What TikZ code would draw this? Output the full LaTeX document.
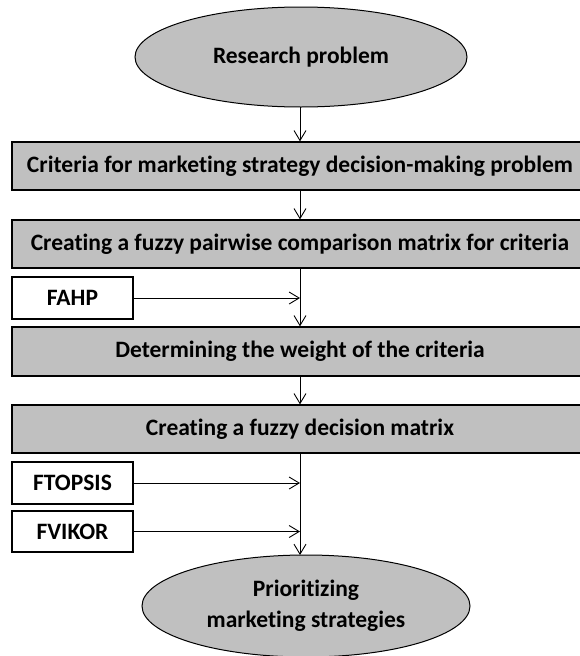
\documentclass[tikz,border=0pt]{standalone}
\usepackage{fontspec}
\setmainfont[Ligatures={NoCommon}]{Carlito}
\usetikzlibrary{arrows.meta,shapes.geometric}
\definecolor{boxgray}{RGB}{192,192,192}
\newlength\critwidth
\AtBeginDocument{%
  \settowidth\critwidth{\bfseries\fontsize{10}{12}\selectfont Criteria for marketing strategy decision-making problem}%
  \pgfmathsetmacro\fsz{10*546/\critwidth}%
  \pgfmathsetmacro\fbl{1.3*\fsz}%
  \xdef\fsz{\fsz}\xdef\fbl{\fbl}}
\tikzset{
  txt/.style={font=\bfseries\fontsize{\fsz}{\fbl}\selectfont},
  stage/.style={txt,draw=black,line width=1.2pt,fill=boxgray,inner sep=0pt,minimum width=576pt},
  oval/.style={txt,ellipse,draw=black,line width=1pt,fill=boxgray,align=center,inner sep=0pt},
  method/.style={txt,draw=black,line width=1.2pt,fill=white,inner sep=0pt,minimum width=121pt},
  link/.style={line width=0.9pt},
  flow/.style={link,-{Straight Barb[length=10pt,width=12pt,line width=0.9pt]}}}
\begin{document}
\begin{tikzpicture}[x=1pt,y=-1pt]
\useasboundingbox (0,0) rectangle (579,656);
% ellipses
\node[oval,minimum width=332pt,minimum height=100pt] (rp) at (301,57) {Research problem};
\node[oval,minimum width=328pt,minimum height=102pt] (pr) at (306,606) {Prioritizing\\marketing strategies};
% stage boxes (right part runs past the picture edge)
\node[stage,minimum height=48pt] (c1) at (300,166) {Criteria for marketing strategy decision-making problem};
\node[stage,minimum height=48pt] (c2) at (300,244) {Creating a fuzzy pairwise comparison matrix for criteria};
\node[stage,minimum height=49pt] (c3) at (300,351.5) {Determining the weight of the criteria};
\node[stage,minimum height=48pt] (c4) at (300,429) {Creating a fuzzy decision matrix};
% method boxes
\node[method,minimum height=42pt] (fahp) at (72.5,298) {FAHP};
\node[method,minimum height=42pt] (ftop) at (72.5,483) {FTOPSIS};
\node[method,minimum height=41pt] (fvik) at (72.5,531.5) {FVIKOR};
% trunk coordinates
\coordinate (a0) at (300,107);
\coordinate (j1) at (300,298);
\coordinate (j2) at (300,483);
\coordinate (j3) at (300,531.5);
\coordinate (e1) at (300,555);
% connectors
\draw[flow] (a0) -- (c1.north -| a0);
\draw[flow] (c1.south -| a0) -- (c2.north -| a0);
\draw[link] (c2.south -| a0) -- (j1);
\draw[flow] (j1) -- (c3.north -| a0);
\draw[flow] (fahp.east |- j1) -- (j1);
\draw[flow] (c3.south -| a0) -- (c4.north -| a0);
\draw[link] (c4.south -| a0) -- (j3);
\draw[flow] (j3) -- (e1);
\draw[flow] (ftop.east |- j2) -- (j2);
\draw[flow] (fvik.east |- j3) -- (j3);
\end{tikzpicture}
\end{document}
